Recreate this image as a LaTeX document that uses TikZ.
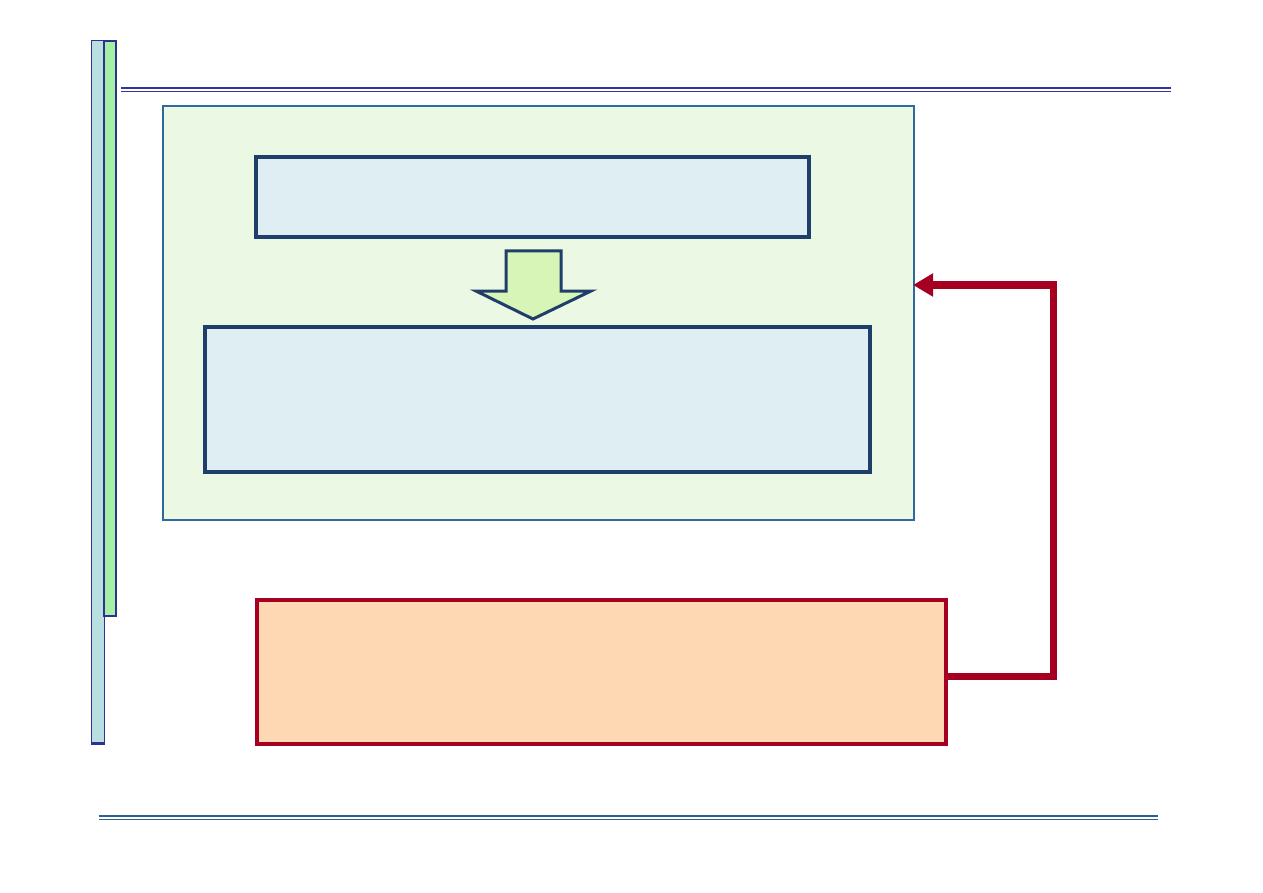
\documentclass[tikz,border=0pt]{standalone}
\usepackage{xcolor}
\usepackage{tikz}
\usetikzlibrary{calc,arrows.meta,positioning}
\definecolor{barBlue}{RGB}{185,223,224}
\definecolor{barGreen}{RGB}{166,240,166}
\definecolor{barEdge}{RGB}{46,49,146}
\definecolor{ruleTop}{RGB}{51,51,160}
\definecolor{ruleBot}{RGB}{47,95,143}
\definecolor{outerFill}{RGB}{234,248,228}
\definecolor{outerEdge}{RGB}{46,106,158}
\definecolor{boxFill}{RGB}{222,238,242}
\definecolor{boxEdge}{RGB}{31,63,106}
\definecolor{arrowFill}{RGB}{216,245,184}
\definecolor{alarmFill}{RGB}{253,216,178}
\definecolor{alarmRed}{RGB}{165,0,33}
\begin{document}
\begin{tikzpicture}[x=1pt,y=-1pt,
  blockbox/.style={draw=boxEdge, fill=boxFill, line width=3.3pt, inner sep=0pt},
  alarmbox/.style={draw=alarmRed, fill=alarmFill, line width=3.3pt, inner sep=0pt},
  feedback/.style={alarmRed, line width=7pt, -{Triangle[length=20pt,width=22pt]}}]
\useasboundingbox (0,0) rectangle (1263,893);
% side bars
\fill[barBlue] (91,41) rectangle (104,744);
\draw[barEdge, line width=1pt] (91,41) rectangle (104,744);
\draw[barEdge, line width=2.5pt] (91,743) -- (104,743);
\fill[barGreen] (104,41) rectangle (116,616);
\draw[barEdge, line width=1.2pt] (104,41) rectangle (116,616);
% rules
\draw[ruleTop, line width=1.2pt] (121,88) -- (1171,88);
\draw[ruleTop, line width=1.2pt] (121,91.5) -- (1171,91.5);
\draw[ruleBot, line width=1.2pt] (99,816) -- (1158,816);
\draw[ruleBot, line width=1.2pt] (99,819.5) -- (1158,819.5);
% main frame
\node[draw=outerEdge, fill=outerFill, line width=1.7pt, inner sep=0pt,
  minimum width=751pt, minimum height=414pt] (outer) at (538.5,313) {};
\node[blockbox, minimum width=553pt, minimum height=80pt] (top) at (532.5,197) {};
\node[blockbox, minimum width=665pt, minimum height=145pt] (bottom) at (537.5,399.5) {};
\draw[boxEdge, fill=arrowFill, line width=3pt, line join=miter]
  (506,251) -- (561,251) -- (561,291) -- (591,291) -- (533,319)
  -- (476,291) -- (506,291) -- cycle;
% alarm box and feedback path
\node[alarmbox, minimum width=689pt, minimum height=144pt] (alarm) at (601.5,672) {};
\coordinate (turn) at (1053,676);
\coordinate (back) at (913,285);
\draw[feedback] (alarm.east |- turn) -- (turn) |- (back);
\end{tikzpicture}
\end{document}
